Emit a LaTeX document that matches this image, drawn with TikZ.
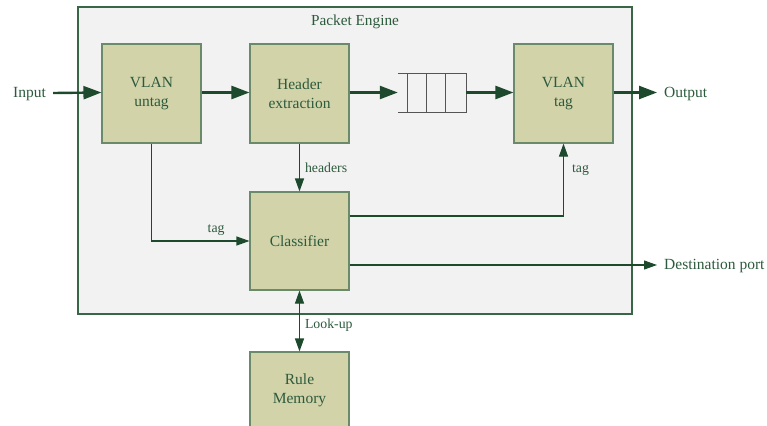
\documentclass[tikz,border=0pt]{standalone}
\usepackage{fontspec}
\setmainfont{Liberation Serif}
\usetikzlibrary{arrows.meta,calc}
\definecolor{ink}{HTML}{2C5A3C}
\definecolor{wire}{HTML}{1D4A2C}
\definecolor{blockfill}{HTML}{D3D3AA}
\definecolor{blockedge}{HTML}{6A8A6A}
\definecolor{enginefill}{HTML}{F2F2F2}
\definecolor{engineedge}{HTML}{3A6648}
\definecolor{queueedge}{HTML}{555555}
\tikzset{
  block/.style={draw=blockedge, line width=1.1pt, fill=blockfill,
    minimum width=99pt, minimum height=99pt, inner sep=0pt,
    align=center, text=ink, font=\fontsize{15.5}{19}\selectfont},
  label/.style={text=ink, inner sep=0pt, font=\fontsize{15.5}{19}\selectfont},
  smalllabel/.style={text=ink, inner sep=0pt, font=\fontsize{13.8}{16}\selectfont},
  bigflow/.style={draw=wire, line width=2.4pt,
    -{Triangle[length=18pt,width=13pt]}},
  thinflow/.style={draw=wire, line width=1.1pt,
    -{Triangle[length=13pt,width=9pt]}},
  bothflow/.style={draw=wire, line width=1.1pt,
    {Triangle[length=13pt,width=9pt]}-{Triangle[length=13pt,width=9pt]}},
}
\begin{document}
\begin{tikzpicture}[x=1pt,y=-1pt]
\useasboundingbox (0,0) rectangle (767,425);
\clip (0,0) rectangle (767,425);

% engine enclosure
\draw[fill=enginefill, draw=engineedge, line width=1.1pt] (78,7) rectangle (632,314);
\node[label, font=\fontsize{15.3}{18}\selectfont] (title) at (355,22) {Packet Engine};

% processing blocks
\node[block] (vut) at (151.5,93.5) {VLAN\\untag};
\node[block] (hdr) at (299.5,93.5) {Header\\extraction};
\node[block] (vtg) at (563.5,93.5) {VLAN\\tag};
\node[block, minimum height=98pt] (cls) at (299.5,241) {Classifier};
\node[block, minimum height=76pt] (mem) at (299.5,390) {Rule\\Memory};

% packet queue
\node[minimum width=68pt, minimum height=39pt, inner sep=0pt] (queue) at (432,93) {};
\draw[draw=queueedge, line width=1.1pt]
  (queue.north west) -- (queue.north east) -- (queue.south east) -- (queue.south west);
\foreach \dx in {10,29,48}
  \draw[draw=queueedge, line width=1.1pt]
    ($(queue.north west)+(\dx,0)$) -- ($(queue.south west)+(\dx,0)$);

% outside labels
\node[label, anchor=west] (input) at (13,94.5) {Input};
\node[label, anchor=west] (output) at (664,94) {Output};
\node[label, anchor=west] (dest) at (664,266.5) {Destination port};

% main data path
\draw[bigflow] ($(input.east)+(7,-1.5)$) -- ($(vut.west)+(0,-1)$);
\draw[bigflow] ($(vut.east)+(0,-1)$) -- ($(hdr.west)+(0,-1)$);
\draw[bigflow] ($(hdr.east)+(0,-1)$) -- ($(queue.west)+(0,-0.5)$);
\draw[bigflow] ($(queue.east)+(0,-0.5)$) -- ($(vtg.west)+(0,-1)$);
\draw[bigflow] ($(vtg.east)+(0,-1)$) -- ($(output.west)+(-7,-1.5)$);

% control paths
\draw[thinflow] (vut.south) |- (cls.west)
  node[smalllabel, pos=0.83, above=5pt] (tagin) {tag};
\draw[thinflow] (hdr.south) -- (cls.north)
  node[smalllabel, midway, right=5pt] (hdrs) {headers};
\draw[thinflow] ($(cls.east)+(0,-25)$) -| (vtg.south)
  node[smalllabel, pos=0.82, right=8pt] (tagout) {tag};
\draw[thinflow] ($(cls.east)+(0,24)$) -- ($(dest.west)+(-7,-1.5)$);
\draw[bothflow] (cls.south) -- (mem.north)
  node[smalllabel, pos=0.57, right=5pt] (lookup) {Look-up};
\end{tikzpicture}
\end{document}
